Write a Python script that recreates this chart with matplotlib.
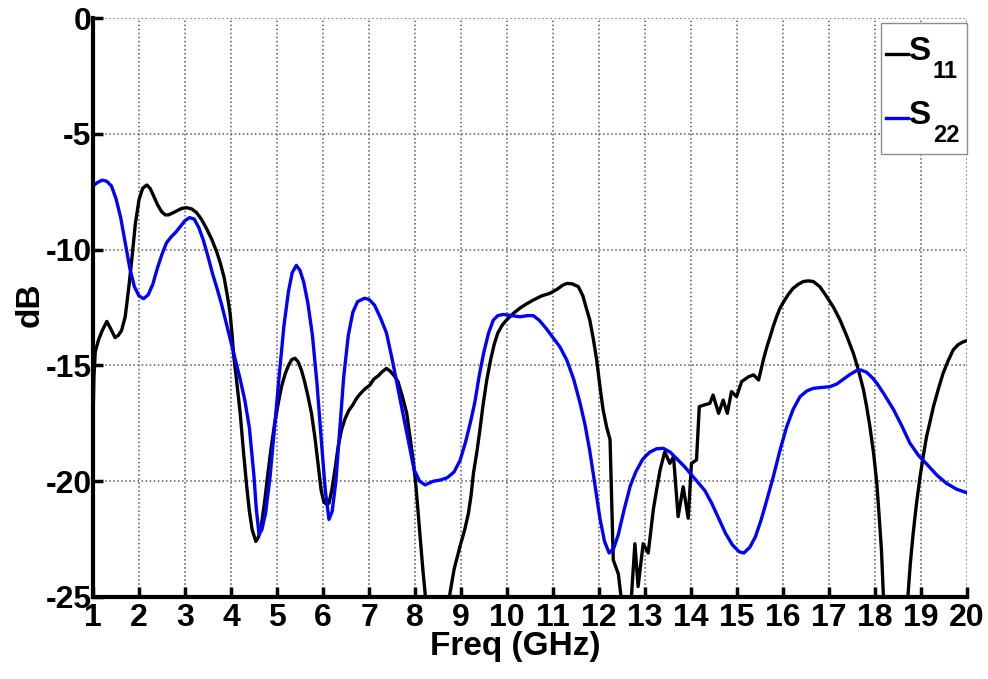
import matplotlib
matplotlib.use("Agg")
import matplotlib.pyplot as plt
from matplotlib import font_manager
from matplotlib.lines import Line2D
from matplotlib.patches import Rectangle

# S11 (black), (freq GHz, dB)
s11_points = [
    (1.00, -17.5), (1.02, -15.5), (1.05, -14.4), (1.12, -13.9), (1.20, -13.5),
    (1.30, -13.1), (1.38, -13.4), (1.48, -13.8), (1.55, -13.7), (1.62, -13.5),
    (1.70, -12.9), (1.78, -11.6), (1.85, -10.3), (1.92, -8.9), (2.00, -7.85),
    (2.08, -7.35), (2.17, -7.21), (2.24, -7.35), (2.31, -7.65), (2.40, -8.05),
    (2.49, -8.36), (2.57, -8.50), (2.64, -8.50), (2.73, -8.42), (2.82, -8.33),
    (2.93, -8.22), (3.04, -8.19), (3.15, -8.25), (3.25, -8.40), (3.36, -8.70),
    (3.47, -9.10), (3.58, -9.55), (3.69, -10.10), (3.77, -10.60), (3.85, -11.20),
    (3.93, -12.10), (3.98, -12.75), (4.02, -13.60), (4.06, -14.60), (4.13, -15.80),
    (4.20, -17.07), (4.27, -18.70), (4.34, -20.20), (4.40, -21.30), (4.46, -22.10),
    (4.54, -22.60), (4.60, -22.40), (4.66, -21.90), (4.73, -20.90), (4.80, -19.70),
    (4.87, -18.60), (4.95, -17.50), (5.03, -16.60), (5.10, -15.90), (5.18, -15.35),
    (5.25, -15.00), (5.32, -14.75), (5.39, -14.69), (5.46, -14.85), (5.53, -15.20),
    (5.60, -15.70), (5.67, -16.30), (5.75, -17.07), (5.83, -18.20), (5.90, -19.40),
    (5.96, -20.40), (6.02, -20.90), (6.08, -21.00), (6.13, -20.95), (6.19, -20.40),
    (6.26, -19.50), (6.33, -18.50), (6.40, -17.80), (6.48, -17.30), (6.56, -16.95),
    (6.65, -16.70), (6.73, -16.42), (6.82, -16.20), (6.92, -16.00), (7.02, -15.85),
    (7.10, -15.60), (7.20, -15.45), (7.30, -15.25), (7.38, -15.13), (7.46, -15.25),
    (7.55, -15.45), (7.63, -15.70), (7.72, -16.30), (7.82, -17.07), (7.90, -18.20),
    (7.96, -19.08), (8.02, -20.20), (8.07, -21.40), (8.12, -22.60), (8.17, -23.80),
    (8.22, -24.84), (8.50, -33.0), (8.76, -24.84), (8.85, -23.80), (8.98, -22.80),
    (9.08, -22.10), (9.16, -21.40), (9.22, -20.60), (9.27, -19.66), (9.34, -18.80),
    (9.41, -17.80), (9.48, -16.70), (9.56, -15.63), (9.64, -14.80), (9.72, -14.10),
    (9.80, -13.60), (9.90, -13.25), (9.99, -13.04), (10.14, -12.75), (10.28, -12.53),
    (10.42, -12.35), (10.57, -12.18), (10.75, -12.00), (10.93, -11.89), (11.10, -11.70),
    (11.20, -11.55), (11.30, -11.46), (11.42, -11.48), (11.55, -11.60), (11.65, -12.00),
    (11.72, -12.50), (11.80, -13.04), (11.88, -13.90), (11.95, -14.77), (12.02, -15.90),
    (12.09, -16.93), (12.17, -17.70), (12.24, -18.20), (12.27, -20.50), (12.31, -23.40),
    (12.42, -24.00), (12.47, -24.84), (12.60, -27.0), (12.71, -24.84), (12.78, -22.70),
    (12.85, -24.55), (12.96, -22.70), (13.07, -23.10), (13.18, -21.24), (13.25, -20.40),
    (13.33, -19.50), (13.43, -18.73), (13.54, -19.23), (13.62, -18.94), (13.72, -21.53),
    (13.83, -20.24), (13.94, -21.60), (14.01, -19.23), (14.12, -19.08), (14.18, -16.78),
    (14.30, -16.70), (14.41, -16.64), (14.48, -16.28), (14.60, -17.07), (14.70, -16.50),
    (14.79, -17.07), (14.88, -16.13), (14.99, -16.35), (15.10, -15.70), (15.25, -15.49),
    (15.36, -15.41), (15.47, -15.63), (15.58, -14.70), (15.65, -14.20), (15.72, -13.76),
    (15.79, -13.30), (15.86, -12.90), (15.93, -12.55), (16.00, -12.30), (16.11, -11.95),
    (16.22, -11.67), (16.33, -11.50), (16.44, -11.38), (16.55, -11.35), (16.66, -11.38),
    (16.80, -11.60), (16.95, -12.03), (17.10, -12.50), (17.24, -13.04), (17.38, -13.70),
    (17.53, -14.48), (17.64, -15.20), (17.75, -16.06), (17.82, -16.80), (17.89, -17.65),
    (17.97, -18.80), (18.04, -20.10), (18.09, -21.50), (18.14, -22.97), (18.18, -24.84),
    (18.45, -33.0), (18.72, -24.84), (18.77, -23.50), (18.83, -22.25), (18.90, -21.00),
    (18.98, -19.80), (19.05, -18.90), (19.12, -18.08), (19.20, -17.40), (19.27, -16.78),
    (19.38, -16.00), (19.48, -15.34), (19.59, -14.80), (19.70, -14.33), (19.81, -14.10),
    (19.92, -13.98), (20.00, -13.93),
]

# S22 (blue)
s22_points = [
    (1.00, -7.25), (1.10, -7.10), (1.20, -7.00), (1.30, -7.05), (1.40, -7.25),
    (1.50, -7.80), (1.60, -8.60), (1.70, -9.70), (1.80, -10.80), (1.90, -11.60),
    (2.00, -12.00), (2.10, -12.12), (2.20, -11.95), (2.30, -11.50), (2.40, -10.80),
    (2.50, -10.20), (2.60, -9.70), (2.70, -9.45), (2.80, -9.25), (2.90, -9.00),
    (3.00, -8.75), (3.10, -8.62), (3.20, -8.68), (3.30, -9.05), (3.40, -9.60),
    (3.50, -10.30), (3.60, -11.05), (3.70, -11.70), (3.80, -12.40), (3.90, -13.20),
    (4.00, -14.00), (4.10, -14.80), (4.20, -15.60), (4.30, -16.50), (4.40, -17.70),
    (4.50, -19.80), (4.55, -21.20), (4.61, -22.30), (4.67, -22.10), (4.75, -21.40),
    (4.85, -19.80), (4.95, -17.60), (5.05, -15.40), (5.15, -13.30), (5.25, -11.80),
    (5.33, -11.00), (5.42, -10.68), (5.50, -10.90), (5.58, -11.40), (5.67, -12.30),
    (5.77, -13.70), (5.87, -15.80), (5.97, -18.40), (6.05, -20.40), (6.13, -21.65),
    (6.20, -21.30), (6.28, -20.00), (6.36, -17.90), (6.45, -15.50), (6.55, -13.70),
    (6.65, -12.70), (6.75, -12.25), (6.90, -12.10), (7.00, -12.15), (7.12, -12.40),
    (7.25, -12.95), (7.38, -13.60), (7.50, -14.70), (7.62, -15.90), (7.75, -17.20),
    (7.87, -18.40), (7.98, -19.50), (8.10, -20.00), (8.22, -20.16), (8.40, -20.00),
    (8.55, -19.95), (8.70, -19.85), (8.85, -19.60), (8.98, -19.10), (9.10, -18.30),
    (9.20, -17.50), (9.30, -16.60), (9.40, -15.40), (9.50, -14.40), (9.60, -13.60),
    (9.70, -13.05), (9.80, -12.85), (9.92, -12.80), (10.10, -12.85), (10.28, -12.90),
    (10.45, -12.85), (10.57, -12.85), (10.70, -13.05), (10.85, -13.40), (11.00, -13.80),
    (11.15, -14.20), (11.30, -14.77), (11.45, -15.60), (11.59, -16.64), (11.70, -17.60),
    (11.80, -18.70), (11.90, -20.00), (12.02, -21.60), (12.12, -22.60), (12.22, -23.10),
    (12.32, -22.90), (12.42, -22.30), (12.55, -21.20), (12.68, -20.20), (12.80, -19.60),
    (12.95, -19.05), (13.10, -18.75), (13.25, -18.60), (13.40, -18.58), (13.55, -18.75),
    (13.70, -19.05), (13.85, -19.35), (14.00, -19.70), (14.15, -20.05), (14.30, -20.40),
    (14.45, -20.95), (14.60, -21.60), (14.75, -22.25), (14.90, -22.75), (15.05, -23.05),
    (15.15, -23.10), (15.28, -22.85), (15.40, -22.40), (15.52, -21.70), (15.65, -20.80),
    (15.79, -19.80), (15.93, -18.70), (16.08, -17.65), (16.22, -16.90), (16.37, -16.35),
    (16.52, -16.10), (16.66, -15.99), (16.85, -15.95), (17.02, -15.92), (17.17, -15.80),
    (17.31, -15.60), (17.45, -15.40), (17.60, -15.22), (17.70, -15.20), (17.82, -15.30),
    (17.95, -15.55), (18.05, -15.80), (18.20, -16.25), (18.40, -16.90), (18.58, -17.60),
    (18.76, -18.36), (18.95, -18.90), (19.12, -19.25), (19.35, -19.75), (19.56, -20.10),
    (19.78, -20.35), (20.00, -20.50),
]

x_ticks = list(range(1, 21))
y_ticks = [-25, -20, -15, -10, -5, 0]
legend_labels = [('S', '11'), ('S', '22')]
line_colors = ['black', '#0000ff']


def has_font(name):
    try:
        font_manager.findfont(font_manager.FontProperties(family=name, weight='bold'),
                              fallback_to_default=False)
        return True
    except ValueError:
        return False


# MATLAB export uses a tall, narrow Helvetica; try the narrow Liberation first
if has_font('Liberation Sans Narrow'):
    fam = ['Liberation Sans Narrow', 'DejaVu Sans']
    tick_fs, label_fs, s_fs, sub_fs = 27, 28, 25, 18
else:
    fam = ['Liberation Sans', 'DejaVu Sans']
    tick_fs, label_fs, s_fs, sub_fs = 23, 24, 24, 17

plt.rcParams['font.family'] = fam
plt.rcParams['font.weight'] = 'bold'
plt.rcParams['axes.unicode_minus'] = False

W, H = 988, 679
fig = plt.figure(figsize=(W / 100, H / 100), dpi=100)
ax = fig.add_axes([93 / W, 1 - 597 / H, (967 - 93) / W, (597 - 18) / H])

s11_f = [p[0] for p in s11_points]
s11_db = [p[1] for p in s11_points]
s22_f = [p[0] for p in s22_points]
s22_db = [p[1] for p in s22_points]
ax.plot(s11_f, s11_db, color=line_colors[0], linewidth=2.4, solid_joinstyle='round')
ax.plot(s22_f, s22_db, color=line_colors[1], linewidth=2.4, solid_joinstyle='round')

ax.set_xlim(1, 20)
ax.set_ylim(-25, 0)
ax.set_xticks(x_ticks)
ax.set_yticks(y_ticks)
ax.grid(True, linestyle=':', color='0.35', linewidth=1.1)
for side in ['top', 'right']:
    ax.spines[side].set_visible(False)
for side in ['left', 'bottom']:
    ax.spines[side].set_linewidth(3)
ax.tick_params(direction='in', length=7, width=2.5, labelsize=tick_fs)
ax.tick_params(axis='x', pad=4)
ax.tick_params(axis='y', pad=1)
for lab in ax.get_xticklabels() + ax.get_yticklabels():
    lab.set_fontweight('bold')

ax.set_xlabel('Freq (GHz)', fontsize=label_fs, fontweight='bold')
ax.xaxis.set_label_coords(0.483, -0.1)
ax.xaxis.label.set_verticalalignment('baseline')
ax.set_ylabel('dB', fontsize=label_fs, fontweight='bold')
ax.yaxis.set_label_coords(-0.072, 0.504)
ax.yaxis.label.set_verticalalignment('center')

# legend drawn by hand so the subscripts sit low like the MATLAB one
fig.add_artist(Rectangle((881 / W, 1 - 154 / H), (967 - 881) / W, (154 - 23) / H,
                         transform=fig.transFigure, facecolor='white',
                         edgecolor='0.55', linewidth=1, zorder=5))
row_y = [54, 118]
for (main, sub), col, ly in zip(legend_labels, line_colors, row_y):
    fig.add_artist(Line2D([886 / W, 908 / W], [1 - ly / H] * 2, color=col,
                          linewidth=2.4, transform=fig.transFigure, zorder=6))
    fig.text(908 / W, 1 - (ly + 6) / H, main, fontsize=s_fs, fontweight='bold',
             va='baseline', ha='left', zorder=6)
    fig.text(933 / W, 1 - (ly + 24) / H, sub, fontsize=sub_fs, fontweight='bold',
             va='baseline', ha='left', zorder=6)

fig.savefig('out.png', dpi=100)
